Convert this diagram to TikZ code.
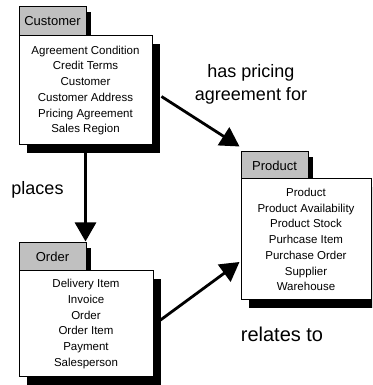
\documentclass[tikz,border=0pt]{standalone}
\usepackage{fontspec}
\setmainfont{Liberation Sans}
\usetikzlibrary{arrows.meta,shadows,calc}
\definecolor{tabgray}{RGB}{192,192,192}
\begin{document}
\begin{tikzpicture}[x=1pt,y=1pt,
  tabbox/.style={draw=black, line width=1pt, fill=tabgray, inner sep=0pt,
    minimum width=67pt, font=\fontsize{13}{15}\selectfont,
    general shadow={fill=black, shadow xshift=5pt, shadow yshift=-5pt}},
  bodybox/.style={draw=black, line width=1pt, fill=white, inner sep=0pt, align=center,
    font=\fontsize{11.5}{15.7}\selectfont,
    general shadow={fill=black, shadow xshift=8pt, shadow yshift=-8pt}},
  rel/.style={line width=2.8pt, -{Triangle[length=19pt,width=21pt]}},
  lbl/.style={font=\fontsize{18}{23}\selectfont, align=center, inner sep=0pt}]
\clip (0,0) rectangle (372,385);
% Customer
\node[tabbox, minimum height=29pt] (ctab) at (52.5,363.5) {Customer};
\node[bodybox, minimum width=133pt, minimum height=109pt] (cbody) at (85.5,294.5)
  {Agreement Condition\\Credit Terms\\Customer\\Customer Address\\Pricing Agreement\\Sales Region};
% Order
\node[tabbox, minimum height=28pt] (otab) at (52.5,128) {Order};
\node[bodybox, minimum width=134pt, minimum height=106pt] (obody) at (86,61)
  {Delivery Item\\Invoice\\Order\\Order Item\\Payment\\Salesperson};
% Product
\node[tabbox, minimum height=27pt] (ptab) at (274.5,219.5) {Product};
\node[bodybox, minimum width=130pt, minimum height=121pt] (pbody) at (306,145.5)
  {Product\\Product Availability\\Product Stock\\Purhcase Item\\Purchase Order\\Supplier\\Warehouse};
% relationships
\draw[rel] ($(cbody.south -| otab.north east)+(-1,0)$) -- ($(otab.north east)+(-1,1)$);
\draw[rel] ($(cbody.north east)+(9,-61)$) -- ($(ptab.north west)+(-1,5)$);
\draw[rel] ($(obody.east)+(7,4)$) -- ($(pbody.west)+(-1,-22.5)$);
% labels
\node[lbl] (l1) at (251,301) {has pricing\\agreement for};
\node[lbl, anchor=base] (l2) at (37.5,190) {places};
\node[lbl, anchor=base, font=\fontsize{20}{24}\selectfont] (l3) at (282,43) {relates to};
\end{tikzpicture}
\end{document}
